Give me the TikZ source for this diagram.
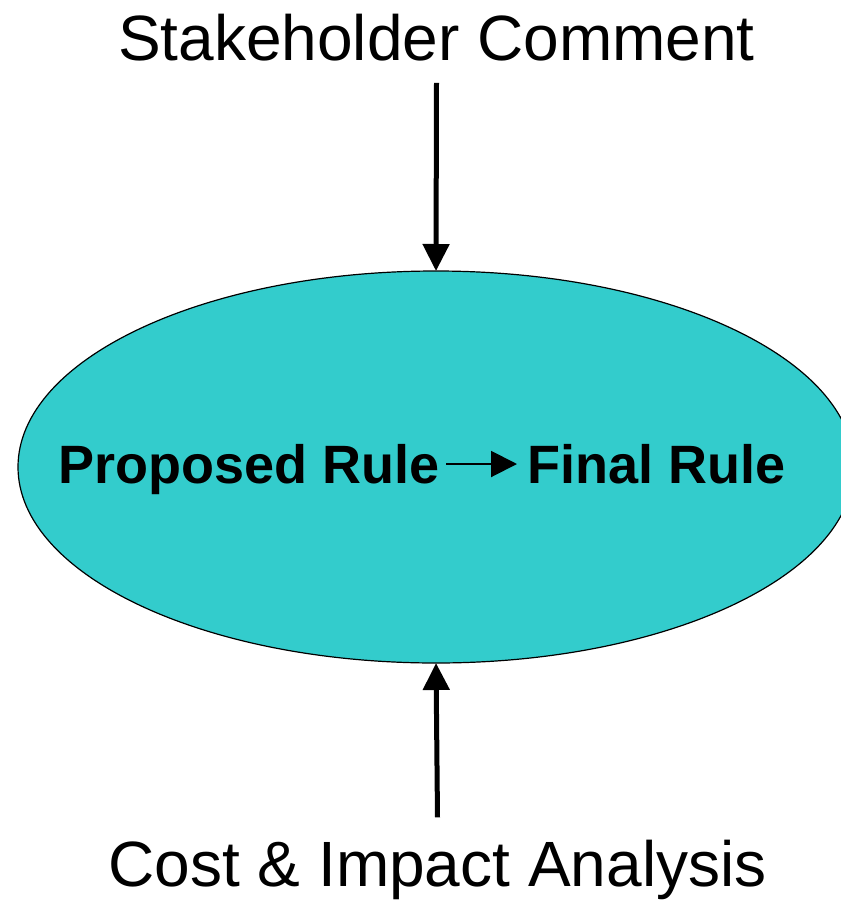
\documentclass[tikz,border=0pt]{standalone}
\usepackage{fontspec}
\setmainfont{Liberation Sans}
\usetikzlibrary{shapes.geometric,arrows.meta}
\definecolor{tealfill}{RGB}{51,204,204}
\begin{document}
\begin{tikzpicture}[x=1pt,y=-1pt, line join=round, >={Triangle[length=27pt,width=26pt]}]
	\tikzset{
		bigtext/.style={font=\fontsize{64}{77}\selectfont, inner xsep=0pt, inner ysep=22pt},
		ruletext/.style={font=\fontsize{54}{65}\selectfont\bfseries, inner sep=0pt},
		thickarrow/.style={->, line width=5pt},
		thinarrow/.style={-{Triangle[length=26pt,width=26pt]}, line width=2pt}
	}
	\useasboundingbox (0,0) rectangle (841,903);
	%Hình elip
	\node[ellipse, draw, line width=1.2pt, fill=tealfill, outer sep=0pt,
		minimum width=836pt, minimum height=392pt] (rule) at (436,467) {};
	%Chữ
	\node[bigtext, anchor=base] (comment) at (436.5,60) {Stakeholder Comment};
	\node[bigtext, anchor=base] (analysis) at (437.5,886) {Cost \& Impact Analysis};
	\node[ruletext, anchor=base east] (proposed) at (440,483) {Proposed Rule};
	\node[ruletext, anchor=base west] (final) at (527,483) {Final Rule};
	%Mũi tên
	\draw[thickarrow] (comment.south) -- (rule.north);
	\draw[thickarrow] (analysis.north) -- (rule.south);
	\draw[thinarrow, shorten <=6pt, shorten >=10pt] ([yshift=19pt]proposed.base east) -- ([yshift=19pt]final.base west);
\end{tikzpicture}
\end{document}
